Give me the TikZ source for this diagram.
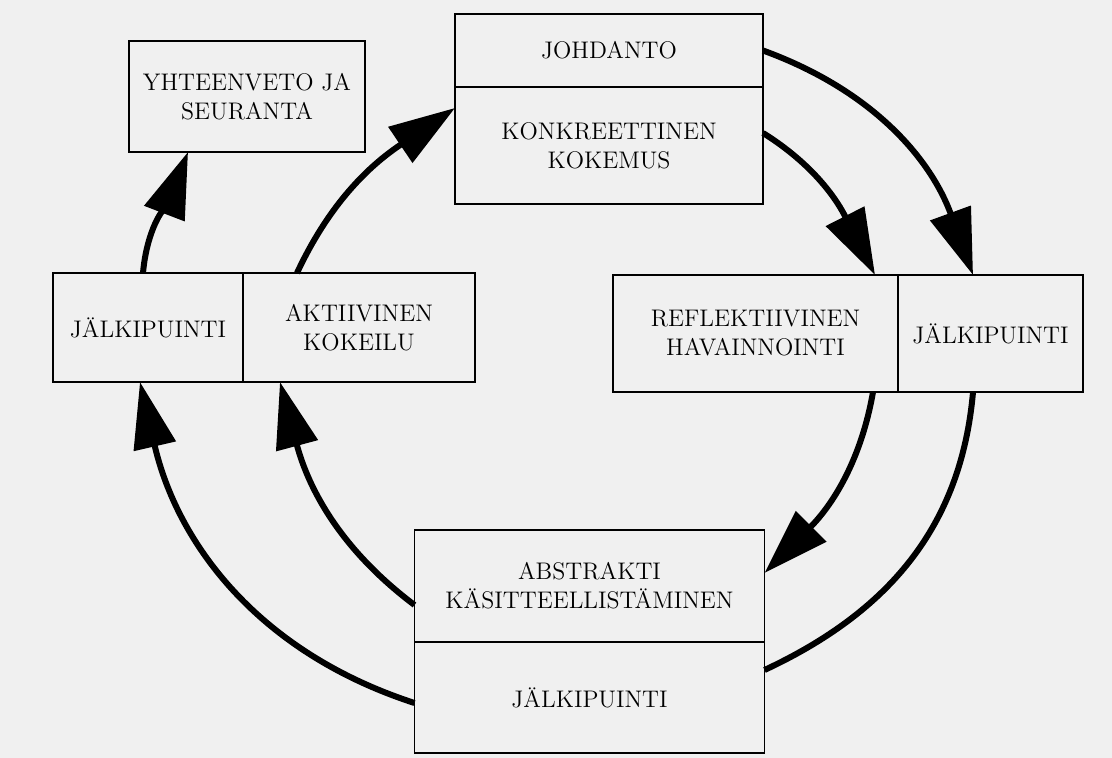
\documentclass[tikz,border=0pt]{standalone}
\usepackage{fontspec}
\usepackage{tikz}
\usetikzlibrary{arrows.meta,calc}

\begin{document}
\begin{tikzpicture}[x=0.5pt,y=0.5pt,
    box/.style={draw,line width=0.9pt,inner sep=2pt,outer sep=0pt,align=center,
      font=\fontsize{12}{14.5}\selectfont},
    flow/.style={line width=3pt,-{Triangle[length=33pt,width=21pt]}},
    tail/.style={line width=3pt}]
  \fill[black!6] (0,0) rectangle (1112,-758);
  \useasboundingbox (0,0) rectangle (1112,-758);
  % boxes
  \node[box,minimum width=154pt,minimum height=36.5pt] (johd) at (609,-50.5) {JOHDANTO};
  \node[box,minimum width=154pt,minimum height=58.5pt] (konk) at (609,-145.5) {KONKREETTINEN\\KOKEMUS};
  \node[box,minimum width=118pt,minimum height=55.5pt] (yht) at (247,-96.5) {YHTEENVETO JA\\SEURANTA};
  \node[box,minimum width=142.5pt,minimum height=58.5pt] (refl) at (755.5,-333.5) {REFLEKTIIVINEN\\HAVAINNOINTI};
  \node[box,minimum width=92.5pt,minimum height=58.5pt] (jalkR) at (990.5,-333.5) {JÄLKIPUINTI};
  \node[box,minimum width=95pt,minimum height=54.5pt] (jalkL) at (148,-327.5) {JÄLKIPUINTI};
  \node[box,minimum width=116pt,minimum height=54.5pt] (akt) at (359,-327.5) {AKTIIVINEN\\KOKEILU};
  \node[box,minimum width=175pt,minimum height=56pt] (abst) at (589.5,-586) {ABSTRAKTI\\KÄSITTEELLISTÄMINEN};
  \node[box,minimum width=175pt,minimum height=55.5pt] (jalkB) at (589.5,-697.5) {JÄLKIPUINTI};
  % cycle arrows
  \draw[flow] (johd.east) to[out=-20,in=110] ($(jalkR.north)+(-17.5,0)$);
  \draw[flow] ($(konk.east)+(0,12.5)$) to[out=-32,in=117] ($(refl.north)+(119.5,0)$);
  \draw[flow] ($(refl.south)+(117.5,0)$) to[out=-100,in=45] ($(abst.east)+(0,13)$);
  \draw[tail] ($(jalkR.south)+(-17.5,0)$) to[out=-95,in=25] ($(jalkB.east)+(0,27.5)$);
  \draw[flow] ($(jalkB.west)+(0,-5.5)$) to[out=162,in=-77] ($(jalkL.south)+(-8,0)$);
  \draw[flow] ($(abst.west)+(0,-19)$) to[out=143,in=-75] ($(akt.south)+(-79,0)$);
  \draw[flow] ($(jalkL.north)+(-5,0)$) to[out=85,in=-111] ($(yht.south)+(-59,0)$);
  \draw[flow] ($(akt.north)+(-62,0)$) to[out=65,in=-146] ($(konk.west)+(0,37.5)$);
\end{tikzpicture}
\end{document}
